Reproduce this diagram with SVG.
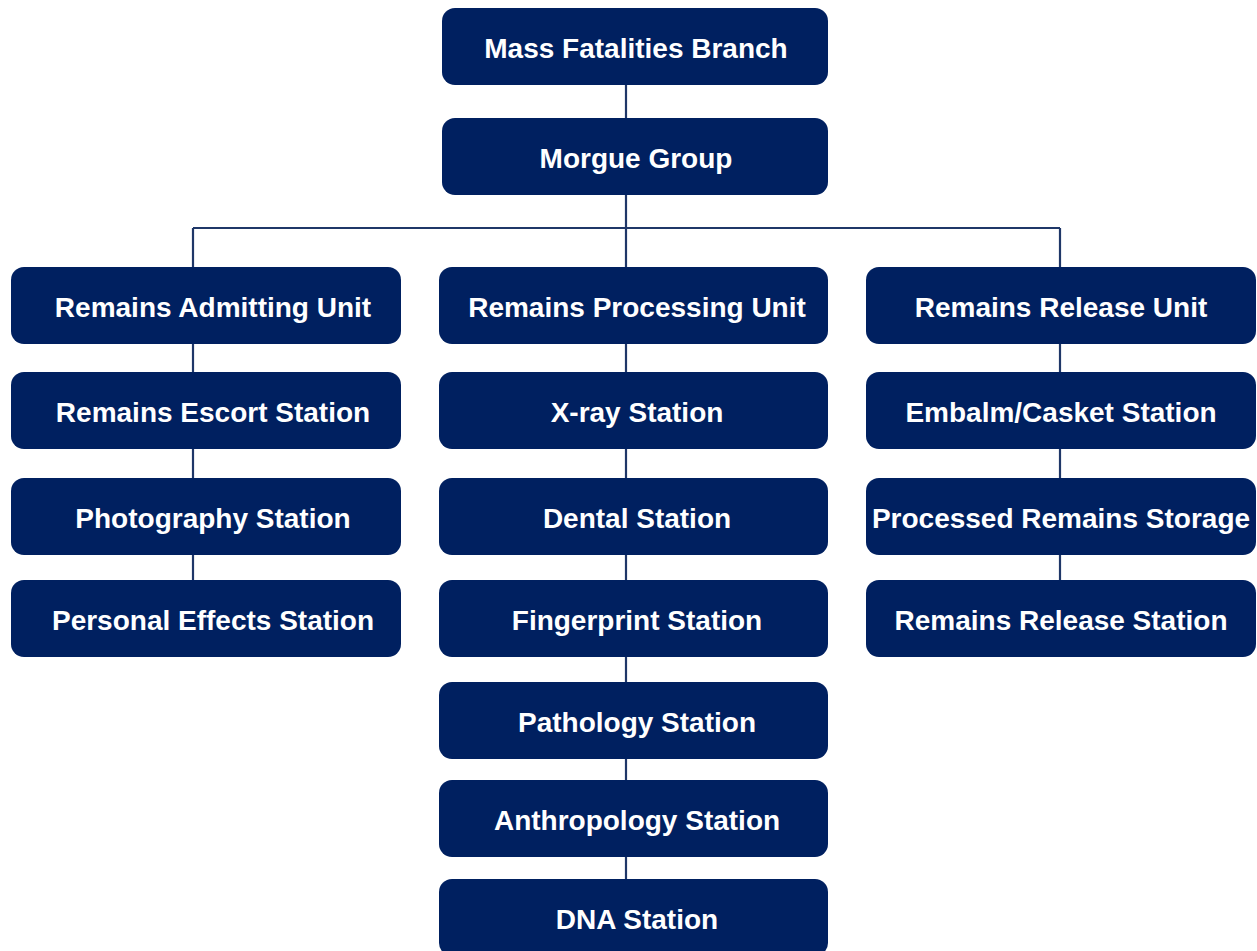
<svg xmlns="http://www.w3.org/2000/svg" width="1257" height="951" viewBox="0 0 1257 951">
<style>
.n{fill:#002060}
.t{fill:#ffffff;font-family:"Liberation Sans",Arial,sans-serif;font-weight:bold;font-size:28px;text-anchor:middle}
.c{stroke:#1f3768;stroke-width:2.2;fill:none}
</style>
<rect width="1257" height="951" fill="#ffffff"/>
<g id="connectors">
<path class="c" d="M626 84V118M626 195V228M193 228H1060M193 228V267M1060 228V267M626 228V267"/>
<path class="c" d="M193 343V580"/>
<path class="c" d="M626 343V880"/>
<path class="c" d="M1060 343V580"/>
</g>
<g id="n-mass"><rect class="n" x="442" y="8" width="386" height="77" rx="13"/><text class="t" x="636" y="58">Mass Fatalities Branch</text></g>
<g id="n-morgue"><rect class="n" x="442" y="118" width="386" height="77" rx="13"/><text class="t" x="636" y="168">Morgue Group</text></g>
<g id="n-admit"><rect class="n" x="11" y="267" width="390" height="77" rx="13"/><text class="t" x="213" y="317">Remains Admitting Unit</text></g>
<g id="n-escort"><rect class="n" x="11" y="372" width="390" height="77" rx="13"/><text class="t" x="213" y="422">Remains Escort Station</text></g>
<g id="n-photo"><rect class="n" x="11" y="478" width="390" height="77" rx="13"/><text class="t" x="213" y="528">Photography Station</text></g>
<g id="n-effects"><rect class="n" x="11" y="580" width="390" height="77" rx="13"/><text class="t" x="213" y="630">Personal Effects Station</text></g>
<g id="n-processing"><rect class="n" x="439" y="267" width="389" height="77" rx="13"/><text class="t" x="637" y="317">Remains Processing Unit</text></g>
<g id="n-xray"><rect class="n" x="439" y="372" width="389" height="77" rx="13"/><text class="t" x="637" y="422">X-ray Station</text></g>
<g id="n-dental"><rect class="n" x="439" y="478" width="389" height="77" rx="13"/><text class="t" x="637" y="528">Dental Station</text></g>
<g id="n-finger"><rect class="n" x="439" y="580" width="389" height="77" rx="13"/><text class="t" x="637" y="630">Fingerprint Station</text></g>
<g id="n-path"><rect class="n" x="439" y="682" width="389" height="77" rx="13"/><text class="t" x="637" y="732">Pathology Station</text></g>
<g id="n-anthro"><rect class="n" x="439" y="780" width="389" height="77" rx="13"/><text class="t" x="637" y="830">Anthropology Station</text></g>
<g id="n-dna"><rect class="n" x="439" y="879" width="389" height="77" rx="13"/><text class="t" x="637" y="929">DNA Station</text></g>
<g id="n-release"><rect class="n" x="866" y="267" width="390" height="77" rx="13"/><text class="t" x="1061" y="317">Remains Release Unit</text></g>
<g id="n-embalm"><rect class="n" x="866" y="372" width="390" height="77" rx="13"/><text class="t" x="1061" y="422">Embalm/Casket Station</text></g>
<g id="n-storage"><rect class="n" x="866" y="478" width="390" height="77" rx="13"/><text class="t" x="1061" y="528">Processed Remains Storage</text></g>
<g id="n-relstation"><rect class="n" x="866" y="580" width="390" height="77" rx="13"/><text class="t" x="1061" y="630">Remains Release Station</text></g>
</svg>
